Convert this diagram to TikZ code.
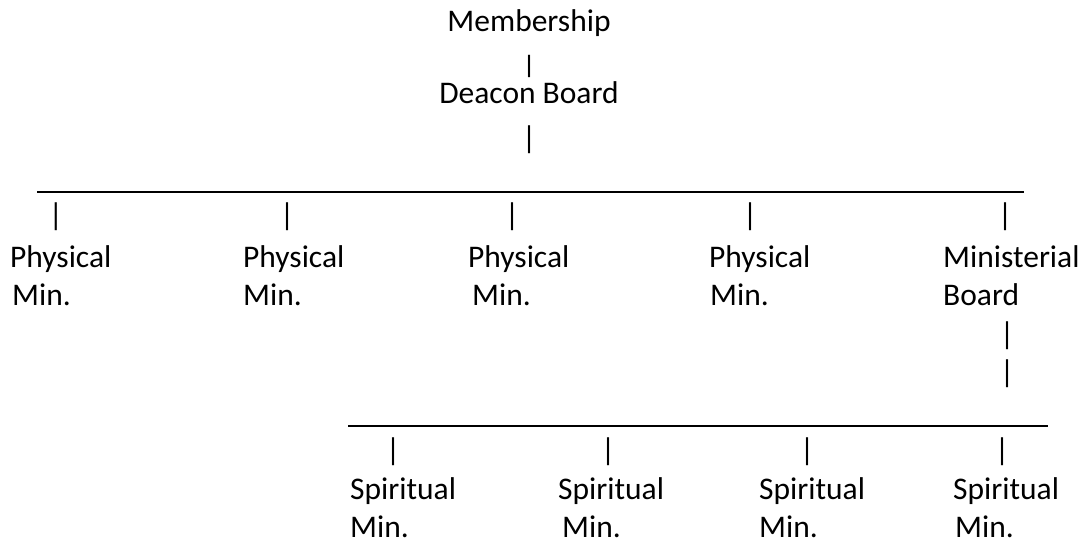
\documentclass[tikz,border=0pt]{standalone}
\usepackage{fontspec}
\setmainfont{Carlito}
\usepackage{tikz}

\tikzset{
    lbl/.style={inner sep=0pt, anchor=base west, font=\fontsize{31.5}{38}\selectfont},
    bar/.style={inner sep=0pt, anchor=center, font=\fontsize{31.5}{38}\selectfont},
    rule/.style={line width=2.2pt, black}
}

\begin{document}
\begin{tikzpicture}[x=1pt, y=-1pt]
    \useasboundingbox (0,0) rectangle (1086,543);
    % Top
    \node[lbl, anchor=base] (Membership) at (529,32) {Membership};
    \node[bar] (Bar-0) at (529,66) {\scalebox{1}[0.8]{|}};
    \node[lbl, anchor=base] (Deacon) at (529,103) {Deacon Board};
    \node[bar] (Bar-1) at (529,140) {|};
    % First rule
    \coordinate (RuleA-L) at (37,192);
    \coordinate (RuleA-R) at (1024,192);
    \draw[rule] (RuleA-L) -- (RuleA-R);
    % Physical ministries
    \foreach \x/\m/\i in {10/12/1,243/243/2,468/472/3,709/710/4} {
        \node[lbl] (Phys-\i) at (\x,267) {Physical};
        \node[lbl] (PhysMin-\i) at (\m,305) {Min.};
    }
    \foreach \x/\i in {56/1,287/2,512/3,750/4,1005/5} {
        \node[bar] (BarA-\i) at (\x,217) {|};
    }
    % Ministerial board
    \node[lbl] (Ministerial) at (943,267) {Ministerial};
    \node[lbl] (Board) at (943,305) {Board};
    \node[bar] (BarB-1) at (1007,336) {|};
    \node[bar] (BarB-2) at (1007,374) {|};
    % Second rule
    \coordinate (RuleB-L) at (348,426);
    \coordinate (RuleB-R) at (1048,426);
    \draw[rule] (RuleB-L) -- (RuleB-R);
    % Spiritual ministries
    \foreach \x/\i in {393/1,608/2,807/3,1002/4} {
        \node[bar] (BarC-\i) at (\x,452) {|};
    }
    \foreach \x/\m/\i in {350/350/1,558/562/2,759/759/3,953/955/4} {
        \node[lbl] (Spir-\i) at (\x,499) {Spiritual};
        \node[lbl] (SpirMin-\i) at (\m,537) {Min.};
    }
\end{tikzpicture}
\end{document}
